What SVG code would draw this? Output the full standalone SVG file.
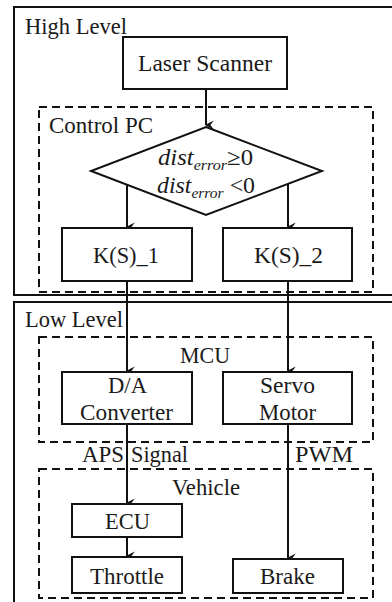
<svg xmlns="http://www.w3.org/2000/svg" width="392" height="602" viewBox="0 0 392 602">
<style>
text{font-family:"Liberation Serif","Times New Roman",Times,serif;font-size:23px;fill:#1a1a1a}
.box{fill:#fff;stroke:#111;stroke-width:2}
.frame{fill:none;stroke:#111;stroke-width:2}
.dash{fill:none;stroke:#111;stroke-width:2;stroke-dasharray:8 5}
.conn{fill:none;stroke:#111;stroke-width:2}
.it{font-style:italic}
.sub{font-size:15px;font-style:italic}
</style>
<defs>
<marker id="arr" markerWidth="10" markerHeight="10" refX="4" refY="8" orient="auto-start-reverse" markerUnits="userSpaceOnUse" viewBox="0 0 8 9">
<path d="M0,1 L4,9 L8,1 L4,4 z" fill="#111"/>
</marker>
</defs>
<rect width="392" height="602" fill="#fff"/>
<g id="high-level">
<rect class="frame" x="14" y="7" width="390" height="288"/>
<text x="25" y="34" textLength="102" lengthAdjust="spacingAndGlyphs">High Level</text>
</g>
<g id="low-level">
<rect class="frame" x="14" y="302" width="390" height="310"/>
<text x="25" y="327" textLength="98" lengthAdjust="spacingAndGlyphs">Low Level</text>
</g>
<g id="control-pc">
<rect class="dash" x="39" y="107" width="334" height="185"/>
<text x="49" y="133" textLength="104" lengthAdjust="spacingAndGlyphs">Control PC</text>
</g>
<g id="mcu">
<rect class="dash" x="39" y="337" width="334" height="105"/>
<text x="180" y="363" textLength="50" lengthAdjust="spacingAndGlyphs">MCU</text>
</g>
<g id="vehicle">
<rect class="dash" x="39" y="469" width="334" height="129"/>
<text x="172" y="495" textLength="68" lengthAdjust="spacingAndGlyphs">Vehicle</text>
</g>
<g id="connectors">
<line class="conn" x1="206" y1="89" x2="206" y2="125" marker-end="url(#arr)"/>
<line class="conn" x1="127" y1="185" x2="127" y2="227" marker-end="url(#arr)"/>
<line class="conn" x1="288" y1="184" x2="288" y2="227" marker-end="url(#arr)"/>
<line class="conn" x1="127" y1="281" x2="127" y2="371" marker-end="url(#arr)"/>
<line class="conn" x1="288" y1="281" x2="288" y2="371" marker-end="url(#arr)"/>
<line class="conn" x1="127" y1="424" x2="127" y2="503" marker-end="url(#arr)"/>
<line class="conn" x1="127" y1="537" x2="127" y2="556" marker-end="url(#arr)"/>
<line class="conn" x1="288" y1="424" x2="288" y2="558" marker-end="url(#arr)"/>
<text x="82" y="462" textLength="42" lengthAdjust="spacingAndGlyphs">APS</text>
<text x="131" y="462" textLength="57" lengthAdjust="spacingAndGlyphs">Signal</text>
<text x="295" y="462" textLength="58" lengthAdjust="spacingAndGlyphs">PWM</text>
</g>
<g id="laser-scanner">
<rect class="box" x="123" y="37" width="164" height="52"/>
<text x="138" y="71" textLength="134" lengthAdjust="spacingAndGlyphs">Laser Scanner</text>
</g>
<g id="decision">
<polygon class="box" points="206,127 322,171 206,215 91,171"/>
<text x="158" y="165" textLength="95" lengthAdjust="spacingAndGlyphs"><tspan class="it">dist</tspan><tspan class="sub" dy="5">error</tspan><tspan dy="-5">≥0</tspan></text>
<text x="157" y="193" textLength="98" lengthAdjust="spacingAndGlyphs"><tspan class="it">dist</tspan><tspan class="sub" dy="5">error</tspan><tspan dy="-5"> &lt;0</tspan></text>
</g>
<g id="ks1">
<rect class="box" x="62" y="228" width="130" height="53"/>
<text x="93" y="263" textLength="66" lengthAdjust="spacingAndGlyphs">K(S)_1</text>
</g>
<g id="ks2">
<rect class="box" x="223" y="228" width="129" height="53"/>
<text x="254" y="263" textLength="69" lengthAdjust="spacingAndGlyphs">K(S)_2</text>
</g>
<g id="da-converter">
<rect class="box" x="62" y="372" width="130" height="52"/>
<text x="108" y="393" textLength="39" lengthAdjust="spacingAndGlyphs">D/A</text>
<text x="80" y="420" textLength="93" lengthAdjust="spacingAndGlyphs">Converter</text>
</g>
<g id="servo-motor">
<rect class="box" x="223" y="372" width="129" height="52"/>
<text x="260" y="393" textLength="55" lengthAdjust="spacingAndGlyphs">Servo</text>
<text x="259" y="420" textLength="57" lengthAdjust="spacingAndGlyphs">Motor</text>
</g>
<g id="ecu">
<rect class="box" x="72" y="504" width="110" height="33"/>
<text x="105" y="529" textLength="45" lengthAdjust="spacingAndGlyphs">ECU</text>
</g>
<g id="throttle">
<rect class="box" x="72" y="557" width="110" height="36"/>
<text x="90" y="584" textLength="74" lengthAdjust="spacingAndGlyphs">Throttle</text>
</g>
<g id="brake">
<rect class="box" x="233" y="559" width="110" height="34"/>
<text x="260" y="584" textLength="55" lengthAdjust="spacingAndGlyphs">Brake</text>
</g>
</svg>
